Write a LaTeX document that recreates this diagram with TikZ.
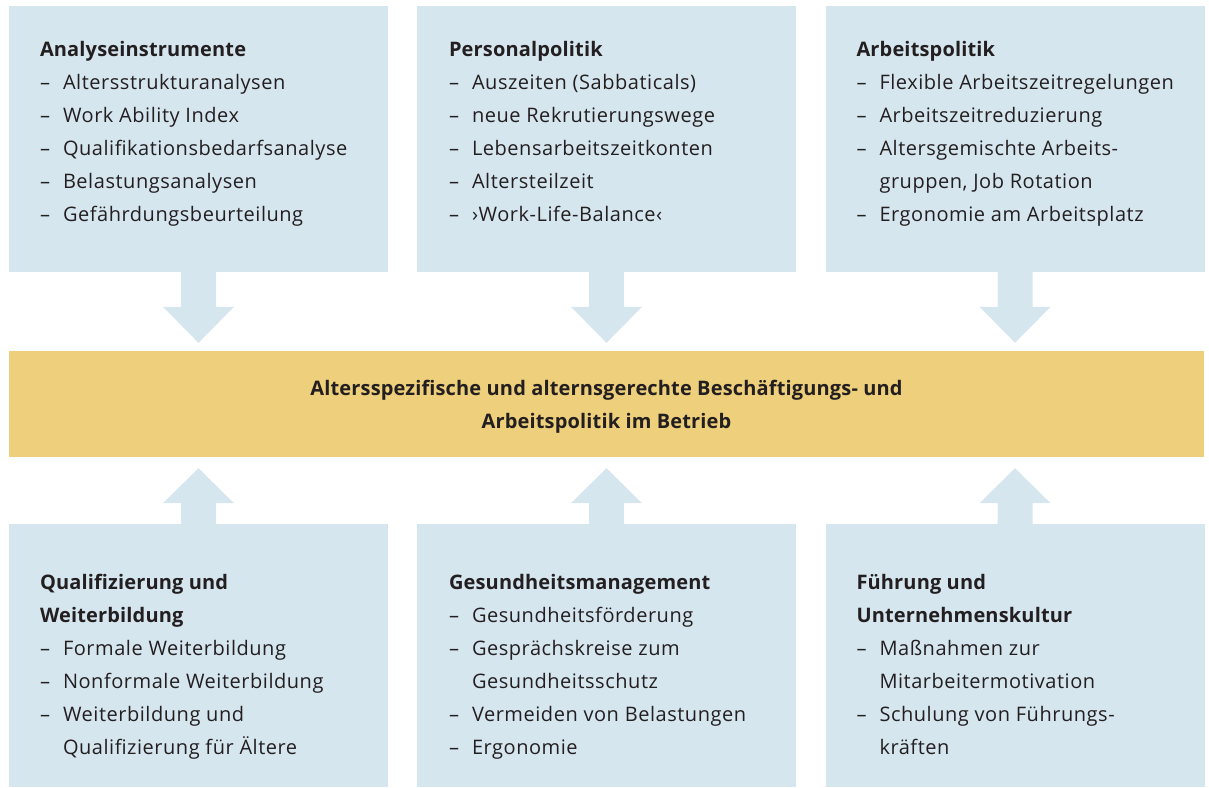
\documentclass[tikz,border=0pt]{standalone}
\usepackage{fontspec}
\setmainfont{Open Sans}[LetterSpace=2.7, BoldFeatures={LetterSpace=0.8}]
\usetikzlibrary{calc}
\definecolor{boxblue}{HTML}{D6E6EF}
\definecolor{boxyellow}{HTML}{EECF7B}
\definecolor{txt}{HTML}{231F20}
\newcommand{\ttl}[1]{\textbf{#1}\par}
\newcommand{\itm}[1]{\hangindent=23pt\hangafter=1\makebox[23pt][l]{–}#1\par}
\newcommand{\boxtext}[1]{\parbox[t]{360pt}{\fontsize{20}{33}\selectfont\raggedright\parindent=0pt #1}}
\tikzset{
  box/.style={fill=boxblue, draw=none, inner sep=0pt, minimum width=379pt},
  topbox/.style={box, minimum height=266pt},
  botbox/.style={box, minimum height=263pt},
  centerbox/.style={fill=boxyellow, draw=none, inner sep=0pt, minimum width=1195pt, minimum height=106pt},
  label/.style={anchor=base west, inner sep=0pt, text=txt},
}
\newcommand{\downarr}[2]{%
  \fill[boxblue] ($(#1)+(-17.5,0)$) -- ($(#2)+(-17.5,-36)$) -- ($(#2)+(-35.5,-36)$) -- (#2)
    -- ($(#2)+(35.5,-36)$) -- ($(#2)+(17.5,-36)$) -- ($(#1)+(17.5,0)$) -- cycle;}
\newcommand{\uparr}[2]{%
  \fill[boxblue] ($(#1)+(-17.5,0)$) -- ($(#2)+(-17.5,35)$) -- ($(#2)+(-35.5,35)$) -- (#2)
    -- ($(#2)+(35.5,35)$) -- ($(#2)+(17.5,35)$) -- ($(#1)+(17.5,0)$) -- cycle;}
\begin{document}
\begin{tikzpicture}[x=1pt,y=-1pt]
\useasboundingbox (0,0) rectangle (1209,787);
% boxes
\node[topbox] (t1) at (198.5,139) {};
\node[topbox] (t2) at (606.5,139) {};
\node[topbox] (t3) at (1015,139) {};
\node[centerbox] (c) at (606.5,404) {};
\node[botbox] (b1) at (198.5,655.5) {};
\node[botbox] (b2) at (606.5,655.5) {};
\node[botbox] (b3) at (1015,655.5) {};
% arrows
\foreach \n in {t1,t2,t3}{
  \coordinate (\n s) at (\n.south);
  \coordinate (\n t) at ($(\n.south |- c.north)+(0,-8)$);
  \downarr{\n s}{\n t}
}
\foreach \n in {b1,b2,b3}{
  \coordinate (\n s) at (\n.north);
  \coordinate (\n t) at ($(\n.north |- c.south)+(0,11)$);
  \uparr{\n s}{\n t}
}
% texts
\node[label] (t1txt) at ($(t1.north west)+(31,51)$) {\boxtext{%
\ttl{Analyseinstrumente}
\itm{Altersstrukturanalysen}
\itm{Work Ability Index}
\itm{Qualifikationsbedarfsanalyse}
\itm{Belastungsanalysen}
\itm{Gefährdungsbeurteilung}}};
\node[label] (t2txt) at ($(t2.north west)+(32,51)$) {\boxtext{%
\ttl{Personalpolitik}
\itm{Auszeiten (Sabbaticals)}
\itm{neue Rekrutierungswege}
\itm{Lebensarbeitszeitkonten}
\itm{Altersteilzeit}
\itm{›Work-Life-Balance‹}}};
\node[label] (t3txt) at ($(t3.north west)+(31,51)$) {\boxtext{%
\ttl{Arbeitspolitik}
\itm{Flexible Arbeitszeitregelungen}
\itm{Arbeitszeitreduzierung}
\itm{Altersgemischte Arbeits-\newline gruppen, Job Rotation}
\itm{Ergonomie am Arbeitsplatz}}};
\node[label] (b1txt) at ($(b1.north west)+(31,66)$) {\boxtext{%
\ttl{Qualifizierung und\newline Weiterbildung}
\itm{Formale Weiterbildung}
\itm{Nonformale Weiterbildung}
\itm{Weiterbildung und\newline Qualifizierung für Ältere}}};
\node[label] (b2txt) at ($(b2.north west)+(32,66)$) {\boxtext{%
\ttl{Gesundheitsmanagement}
\itm{Gesundheitsförderung}
\itm{Gesprächskreise zum\newline Gesundheitsschutz}
\itm{Vermeiden von Belastungen}
\itm{Ergonomie}}};
\node[label] (b3txt) at ($(b3.north west)+(31,66)$) {\boxtext{%
\ttl{Führung und\newline Unternehmenskultur}
\itm{Maßnahmen zur\newline Mitarbeitermotivation}
\itm{Schulung von Führungs-\newline kräften}}};
\node[anchor=base, inner sep=0pt, text=txt] (ctxt) at ($(c.north)+(0,45)$) {\parbox[t]{900pt}{\centering\fontsize{20}{33}\selectfont\bfseries
Altersspezifische und alternsgerechte Beschäftigungs- und\\ Arbeitspolitik im Betrieb}};
\end{tikzpicture}
\end{document}
